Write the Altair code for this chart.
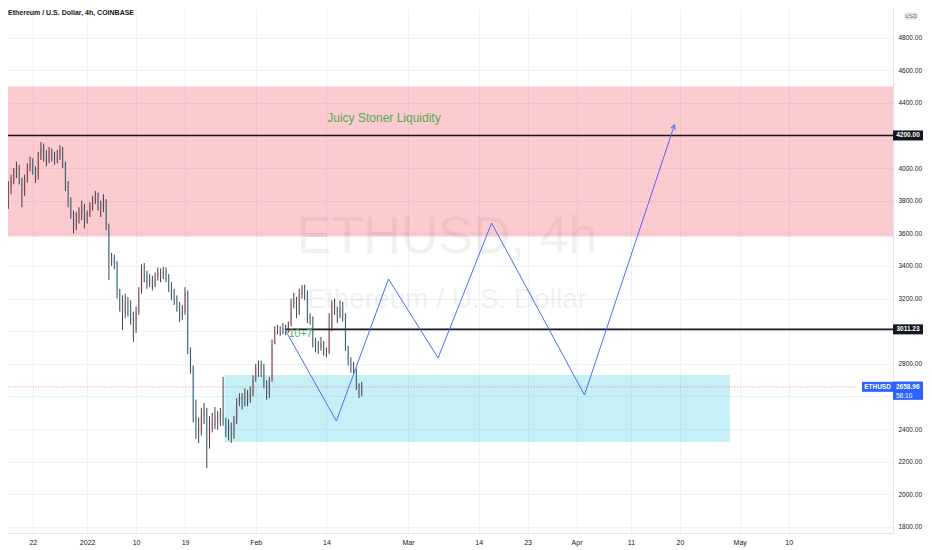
import pandas as pd
import altair as alt

# ETHUSD, COINBASE - price, drawn as 12h candles
candle_start = "2021-12-17 00:00"
first_open = 3960

closes = [
    3820, 3880, 3930, 3960, 4010, 3930, 3850, 3930, 4000, 4030,  # Dec 17-21
    3990, 3950, 4060, 4120, 4080, 4050, 4100, 4080, 4040, 4070,  # Dec 22-26
    4110, 4030, 3900, 3790, 3720, 3640, 3690, 3720, 3760, 3680,  # Dec 27-31
    3720, 3770, 3800, 3830, 3790, 3760, 3800, 3650, 3440, 3450,  # Jan 1-5
    3420, 3250, 3200, 3120, 3180, 3150, 3100, 3010, 3120, 3250,  # Jan 6-10
    3380, 3350, 3300, 3320, 3280, 3330, 3360, 3340, 3370, 3330,  # Jan 11-15
    3280, 3230, 3200, 3160, 3100, 3120, 3240, 2880, 2780, 2480,  # Jan 16-20
    2420, 2380, 2480, 2520, 2330, 2450, 2420, 2480, 2460, 2500,  # Jan 21-25
    2450, 2400, 2420, 2360, 2450, 2560, 2600, 2560, 2620, 2580,  # Jan 26-30
    2620, 2710, 2780, 2760, 2790, 2680, 2620, 2700, 2920, 3000,  # Jan 31-Feb 4
    3010, 2990, 3020, 3000, 3040, 3170, 3200, 3110, 3230, 3250,  # Feb 5-9
    3240, 3080, 3090, 2940, 2920, 2900, 2930, 2880, 2870, 3010,  # Feb 10-14
    3170, 3140, 3090, 3150, 3100, 2900, 2820, 2780, 2760, 2680,  # Feb 15-19
    2620, 2658.96,                                               # Feb 20
]
highs = [
    3990, 3920, 3960, 4000, 4040, 4020, 3940, 3960, 4030, 4070,
    4060, 4010, 4100, 4160, 4150, 4110, 4130, 4120, 4100, 4110,
    4140, 4130, 4040, 3920, 3820, 3740, 3730, 3760, 3800, 3780,
    3740, 3790, 3830, 3860, 3850, 3800, 3840, 3810, 3660, 3480,
    3470, 3430, 3260, 3220, 3230, 3210, 3190, 3120, 3150, 3270,
    3410, 3418, 3370, 3350, 3340, 3360, 3390, 3385, 3395, 3390,
    3350, 3300, 3260, 3220, 3180, 3160, 3270, 3250, 2900, 2790,
    2580, 2470, 2530, 2560, 2530, 2480, 2500, 2535, 2510, 2530,
    2720, 2470, 2460, 2440, 2480, 2590, 2620, 2620, 2650, 2640,
    2660, 2730, 2800, 2820, 2820, 2800, 2700, 2720, 2950, 3030,
    3040, 3030, 3050, 3040, 3060, 3200, 3235, 3210, 3260, 3283,
    3285, 3250, 3110, 3090, 2960, 2940, 2965, 2940, 2900, 3110,
    3190, 3200, 3150, 3190, 3180, 3110, 2910, 2840, 2810, 2770,
    2680, 2690,
]
lows = [
    3700, 3750, 3840, 3900, 3940, 3900, 3760, 3830, 3910, 3980,
    3960, 3910, 3930, 4050, 4040, 4010, 4030, 4040, 4020, 4030,
    4050, 4000, 3860, 3760, 3690, 3600, 3620, 3660, 3680, 3630,
    3660, 3700, 3740, 3780, 3740, 3700, 3730, 3620, 3314, 3400,
    3380, 3200, 3120, 3007, 3080, 3090, 3040, 2935, 2990, 3100,
    3230, 3300, 3260, 3270, 3250, 3270, 3310, 3300, 3320, 3300,
    3240, 3190, 3160, 3120, 3057, 3070, 3100, 2860, 2740, 2440,
    2340, 2315, 2360, 2430, 2160, 2280, 2380, 2400, 2395, 2420,
    2420, 2350, 2330, 2315, 2340, 2430, 2540, 2520, 2540, 2540,
    2560, 2600, 2690, 2720, 2720, 2650, 2580, 2590, 2690, 2920,
    2980, 2970, 2980, 2975, 2990, 3030, 3140, 3080, 3100, 3200,
    3190, 3050, 3040, 2900, 2870, 2860, 2880, 2850, 2840, 2860,
    3000, 3100, 3050, 3080, 3060, 2880, 2790, 2745, 2740, 2640,
    2590, 2600,
]

# drawings
supply_zone = [3580, 4500]
demand_zone = [2321, 2731]
demand_dates = ["2022-01-26T06:00:00Z", "2022-04-29T05:00:00Z"]
level_prices = [4200.00, 3011.23]
level_starts = ["2021-12-01T00:00:00Z", "2022-02-06T09:00:00Z"]
last_price = 2658.96

path_dates = ["2022-02-06T09:00:00Z", "2022-02-15T20:00:00Z", "2022-02-25T10:00:00Z",
              "2022-03-06T13:00:00Z", "2022-03-16T09:00:00Z", "2022-04-02T11:00:00Z",
              "2022-04-19T00:00:00Z"]
path_prices = [3011, 2449, 3320, 2836, 3663, 2609, 4264]

notes = ["Juicy Stoner Liquidity", "10+7"]
note_dates = ["2022-02-24T14:00:00Z", "2022-02-09T06:00:00Z"]
note_prices = [4307, 2983]

x_tick_dates = ["2021-12-22", "2022-01-01", "2022-01-10", "2022-01-19", "2022-02-01",
                "2022-02-14", "2022-03-01", "2022-03-14", "2022-03-23", "2022-04-01",
                "2022-04-11", "2022-04-20", "2022-05-01", "2022-05-10"]
price_ticks = [1800, 2000, 2200, 2400, 2600, 2800, 3000, 3200, 3400, 3600,
               3800, 4000, 4200, 4400, 4600, 4800]
# price-scale labels covered by the level tags
hidden_ticks = [2600, 3000, 4200]

W, H = 885, 525
FONT = "Liberation Sans"
GRID = "#f1f2f6"
INK = "#131722"
BLUE = "#2962ff"
FAR_LEFT = "2021-12-01T00:00:00Z"
FAR_RIGHT = "2022-06-30T00:00:00Z"


def ms(s):
    return int(pd.Timestamp(s, tz="UTC").value // 10**6)


x_scale = alt.Scale(type="utc", domain=[ms("2021-12-18 08:44"), ms("2022-05-28 06:33")])
y_scale = alt.Scale(domain=[1762.7, 4981.6], nice=False, zero=False)

x_axis = alt.Axis(
    values=[ms(d) for d in x_tick_dates],
    labelExpr="utcdate(datum.value) == 1 ? (utcmonth(datum.value) == 0 ? utcFormat(datum.value, '%Y') : utcFormat(datum.value, '%b')) : utcFormat(datum.value, '%d')",
    title=None, grid=True, gridColor=GRID, domainColor="#e0e3eb", ticks=False,
    labelFont=FONT, labelFontSize=7, labelColor=INK, labelPadding=5,
    labelOverlap=False, labelFlush=False,
)
y_axis = alt.Axis(
    values=price_ticks,
    labelExpr=f"indexof({hidden_ticks}, datum.value) >= 0 ? '' : format(datum.value, '.2f')",
    orient="right",
    title=None, grid=True, gridColor=GRID, domainColor="#e0e3eb", ticks=False,
    labelFont=FONT, labelFontSize=6.5, labelColor=INK, labelPadding=5,
    labelOverlap=False, labelFlush=False,
)


def xenc(field):
    return alt.X(f"{field}:T", scale=x_scale, axis=x_axis)


def yenc(field):
    return alt.Y(f"{field}:Q", scale=y_scale, axis=y_axis)


# candles
times = pd.date_range(candle_start, periods=len(closes), freq="12h")
opens = [first_open] + closes[:-1]
candles = pd.DataFrame({
    "t": times.strftime("%Y-%m-%dT%H:%M:%SZ"),
    "open": opens, "close": closes, "high": highs, "low": lows,
})
candles["dir"] = ["up" if c >= o else "down" for o, c in zip(opens, closes)]

wicks = alt.Chart(candles).mark_rule(color="#2a2e39", strokeWidth=0.9, clip=True).encode(
    x=xenc("t"), y=yenc("low"), y2="high"
)
bodies = alt.Chart(candles).mark_bar(size=1.8, clip=True).encode(
    x=xenc("t"), y=yenc("open"), y2="close",
    color=alt.Color("dir:N", scale=alt.Scale(domain=["up", "down"], range=["#5b7cf0", "#2a2e39"]),
                    legend=None),
)

# zones
zones = pd.DataFrame({
    "x0": [FAR_LEFT, demand_dates[0]],
    "x1": [FAR_RIGHT, demand_dates[1]],
    "lo": [supply_zone[0], demand_zone[0]],
    "hi": [supply_zone[1], demand_zone[1]],
    "kind": ["supply", "demand"],
})
zone_rects = alt.Chart(zones).mark_rect(clip=True).encode(
    x=xenc("x0"), x2="x1", y=yenc("lo"), y2="hi",
    color=alt.Color("kind:N", scale=alt.Scale(domain=["supply", "demand"],
                                              range=["rgba(242,54,69,0.26)", "rgba(0,188,212,0.22)"]),
                    legend=None),
)

# horizontal levels
levels = pd.DataFrame({"x0": level_starts, "x1": [FAR_RIGHT] * 2, "p": level_prices,
                       "label": [f"{p:.2f}" for p in level_prices]})
level_lines = alt.Chart(levels).mark_rule(color=INK, strokeWidth=1.6, clip=True).encode(
    x=xenc("x0"), x2="x1", y=yenc("p")
)

last = pd.DataFrame({"x0": [FAR_LEFT], "x1": ["2022-05-22T07:00:00Z"], "p": [last_price],
                     "label": [f"{last_price:.2f}"], "timer": ["58:10"], "sym": ["ETHUSD"]})
last_line = alt.Chart(last).mark_rule(color="#f23645", opacity=0.6, strokeWidth=1,
                                      strokeDash=[1, 2], clip=True).encode(
    x=xenc("x0"), x2="x1", y=yenc("p")
)

# projected path
path = pd.DataFrame({"t": path_dates, "p": path_prices, "i": range(len(path_dates))})
path_line = alt.Chart(path).mark_line(color="#4a6cf0", strokeWidth=1).encode(
    x=xenc("t"), y=yenc("p"), order="i:Q"
)
arrow = alt.Chart(path.tail(1)).mark_point(
    shape="M-0.7,1.2L0,0L0.7,1.2", size=49, filled=False, color="#4a6cf0",
    strokeWidth=1, opacity=1, angle=19,
).encode(x=xenc("t"), y=yenc("p"))

# notes
note_df = pd.DataFrame({"t": note_dates, "p": note_prices, "txt": notes, "fs": [12, 10.5]})
note_text = alt.Chart(note_df).mark_text(font=FONT, color="#4caf50").encode(
    x=xenc("t"), y=yenc("p"), text="txt:N",
    size=alt.Size("fs:Q", scale=None, legend=None),
)

# watermark
wm1 = alt.Chart(pd.DataFrame({"txt": ["ETHUSD, 4h"]})).mark_text(
    font=FONT, fontSize=52, color="#000000", opacity=0.05
).encode(x=alt.value(439), y=alt.value(229), text="txt:N")
wm2 = alt.Chart(pd.DataFrame({"txt": ["Ethereum / U.S. Dollar"]})).mark_text(
    font=FONT, fontSize=28, color="#000000", opacity=0.05
).encode(x=alt.value(439), y=alt.value(292), text="txt:N")

# price-scale tags
TAG_X = 900
BOX = "M-3,-1L3,-1L3,1L-3,1Z"
level_tags = alt.Chart(levels).mark_point(shape=BOX, size=100, filled=True, color=INK, opacity=1).encode(
    x=alt.value(TAG_X), y=yenc("p")
)
level_tag_text = alt.Chart(levels).mark_text(font=FONT, fontSize=6.5, fontWeight="bold",
                                             color="white").encode(
    x=alt.value(TAG_X), y=yenc("p"), text="label:N"
)
last_tag = alt.Chart(last).mark_point(shape="M-3,-1.06L3,-1.06L3,2.6L-3,2.6Z", size=100,
                                      filled=True, color=BLUE, opacity=1).encode(
    x=alt.value(TAG_X), y=yenc("p")
)
last_tag_text = alt.Chart(last).mark_text(font=FONT, fontSize=6.5, fontWeight="bold",
                                          color="white", align="left").encode(
    x=alt.value(TAG_X - 12), y=yenc("p"), text="label:N"
)
last_timer = alt.Chart(last).mark_text(font=FONT, fontSize=6.5, color="white", align="left",
                                       dy=9).encode(
    x=alt.value(TAG_X - 12), y=yenc("p"), text="timer:N"
)
sym_tag = alt.Chart(last).mark_point(shape="M-3.1,-1L3.1,-1L3.1,1L-3.1,1Z", size=100,
                                     filled=True, color=BLUE, opacity=1).encode(
    x=alt.value(869.5), y=yenc("p")
)
sym_text = alt.Chart(last).mark_text(font=FONT, fontSize=6.5, fontWeight="bold", color="white").encode(
    x=alt.value(869.5), y=yenc("p"), text="sym:N"
)

usd_box = alt.Chart(pd.DataFrame({"txt": ["USD"]})).mark_point(
    shape="M-1.5,-1L1.5,-1L1.5,1L-1.5,1Z", size=36, filled=True, fill="white",
    stroke="#b2b5be", strokeWidth=0.6, opacity=1
).encode(x=alt.value(903), y=alt.value(8))
usd_text = alt.Chart(pd.DataFrame({"txt": ["USD"]})).mark_text(
    font=FONT, fontSize=6, color="#50535e"
).encode(x=alt.value(903), y=alt.value(8), text="txt:N")

title = alt.Chart(pd.DataFrame({"txt": ["Ethereum / U.S. Dollar, 4h, COINBASE"]})).mark_text(
    font=FONT, fontSize=7, fontWeight="bold", color=INK, align="left", baseline="top"
).encode(x=alt.value(0), y=alt.value(1), text="txt:N")

chart = alt.layer(
    wm1, wm2, zone_rects, last_line, level_lines, wicks, bodies, path_line, arrow, note_text,
    level_tags, level_tag_text, last_tag, last_tag_text, last_timer, sym_tag, sym_text,
    usd_box, usd_text, title,
).properties(
    width=W, height=H, background="white",
    autosize=alt.AutoSizeParams(type="none"),
    padding={"left": 0, "top": 0, "right": 31, "bottom": 15},
).configure_view(
    strokeWidth=0
)

chart.save("out.html", embed_options={"renderer": "svg", "actions": False})
